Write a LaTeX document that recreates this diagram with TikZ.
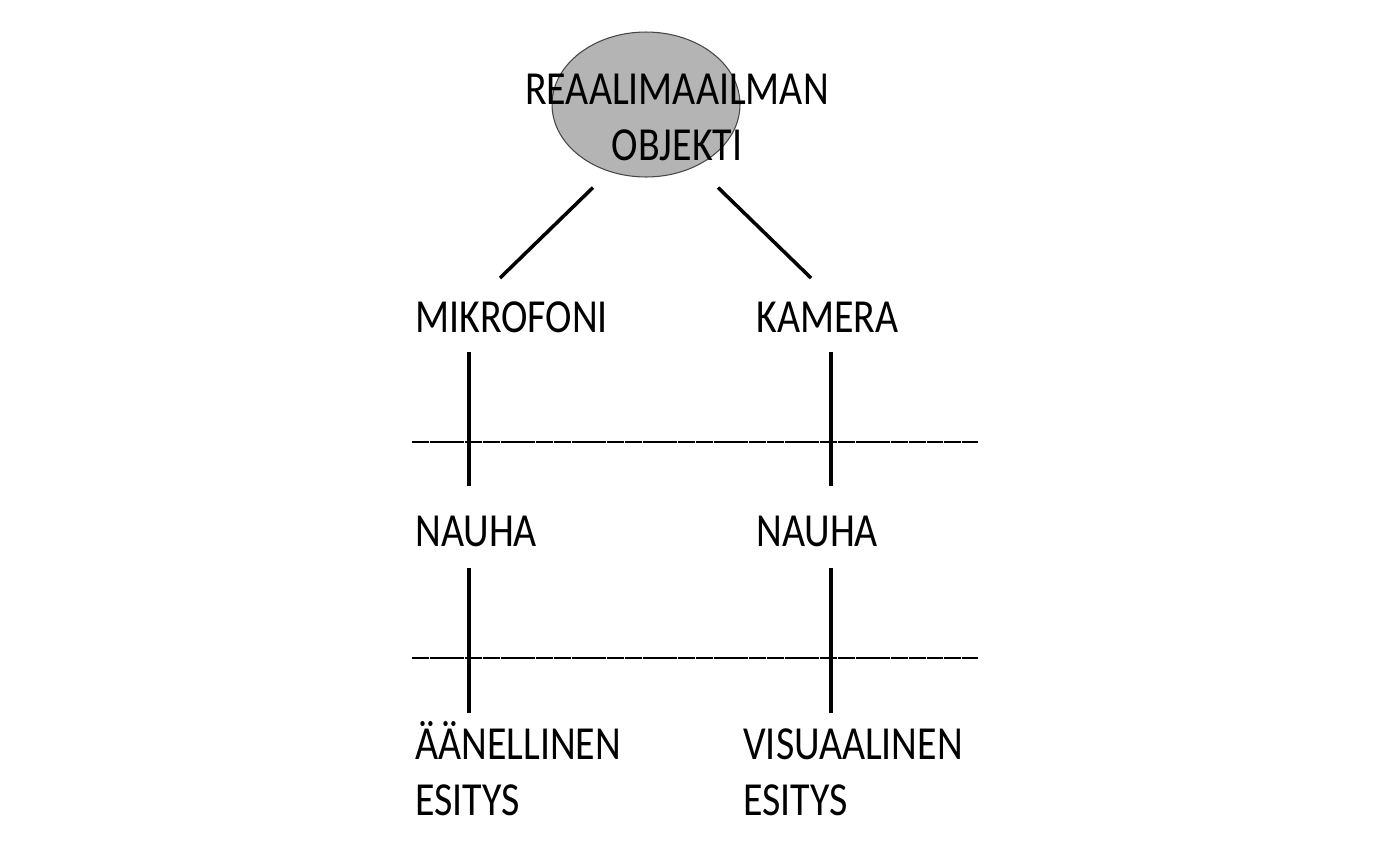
\documentclass[tikz,border=0pt]{standalone}
\usepackage{fontspec}
\setmainfont{Carlito}[FakeStretch=0.84]
\usetikzlibrary{shapes.geometric,calc}
\definecolor{blobgray}{RGB}{180,180,180}
\definecolor{rimgray}{RGB}{70,70,70}

\tikzset{
  word/.style={anchor=base west, inner sep=0pt, align=left, font=\fontsize{27}{31.5}\selectfont},
  link/.style={line width=2pt},
  pole/.style={line width=2.4pt},
  divider/.style={line width=1.6pt, dash pattern=on 9.6pt off 0.5pt}
}

\begin{document}
\begin{tikzpicture}[x=0.02cm, y=-0.02cm]
  \useasboundingbox (0,0) rectangle (1398,856);

  % object at the top
  \node[ellipse, draw=rimgray, line width=0.6pt, fill=blobgray, minimum width=3.76cm, minimum height=2.9cm, inner sep=0pt] (obj) at (646,104.5) {};
  \node[word, anchor=base, align=center] (objtxt) at (677,160) {REAALIMAAILMAN\\OBJEKTI};

  % devices
  \node[word] (mik) at (415,332) {MIKROFONI};
  \node[word] (kam) at (756,332) {KAMERA};
  \draw[link] ($(obj.south)+(-53,10)$) -- ($(mik.base west)+(85,-54)$);
  \draw[link] ($(obj.south)+(72,10)$) -- ($(kam.base west)+(55,-54)$);

  % tapes and outputs
  \node[word] (nauA) at (415,546) {NAUHA};
  \node[word] (nauB) at (756,546) {NAUHA};
  \node[word] (outA) at (415,815) {ÄÄNELLINEN\\ESITYS};
  \node[word] (outB) at (743,815) {VISUAALINEN\\ESITYS};

  \coordinate (colA) at (469,0);
  \coordinate (colB) at (831,0);
  \coordinate (cutA1) at (412,442);
  \coordinate (cutB1) at (978,442);
  \coordinate (cutA2) at (412,658);
  \coordinate (cutB2) at (978,658);

  \draw[divider] (cutA1) -- (cutB1);
  \draw[divider] (cutA2) -- (cutB2);

  \draw[pole, shorten <=0.4cm, shorten >=1.2cm] (mik.base -| colA) -- (nauA.base -| colA);
  \draw[pole, shorten <=0.4cm, shorten >=1.2cm] (kam.base -| colB) -- (nauB.base -| colB);
  \draw[pole, shorten <=0.44cm, shorten >=2.04cm] (nauA.base -| colA) -- (outA.base -| colA);
  \draw[pole, shorten <=0.44cm, shorten >=2.04cm] (nauB.base -| colB) -- (outB.base -| colB);
\end{tikzpicture}
\end{document}
